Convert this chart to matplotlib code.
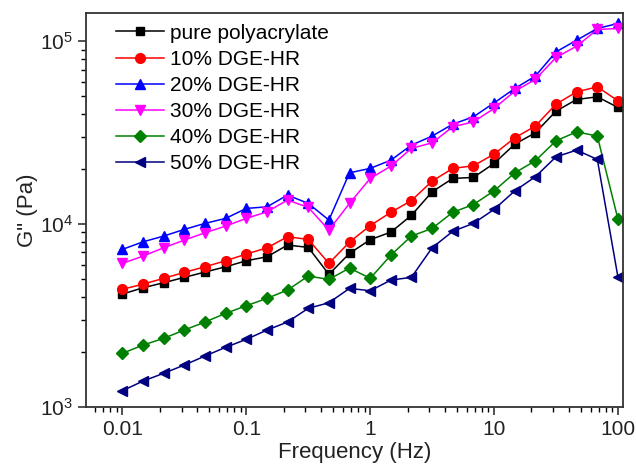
import numpy as np
import matplotlib.pyplot as plt
from matplotlib.ticker import LogLocator, NullFormatter, FixedLocator, FixedFormatter

plt.rcParams['font.family'] = ['Liberation Sans', 'DejaVu Sans']

# frequency sweep, 6 points per decade
freq = [0.01, 0.0147, 0.0215, 0.0316, 0.0464, 0.0681,
        0.1, 0.147, 0.215, 0.316, 0.464, 0.681,
        1, 1.47, 2.15, 3.16, 4.64, 6.81,
        10, 14.7, 21.5, 31.6, 46.4, 68.1, 100]

g_pure = [4145, 4487, 4778, 5114, 5467, 5844, 6302, 6627, 7678, 7460, 5311, 6918,
          8217, 9043, 11160, 15010, 17770, 17990, 21470, 27370, 31540, 41450,
          48010, 49610, 43420]
g_10 = [4398, 4700, 5050, 5446, 5844, 6302, 6857, 7421, 8522, 8248, 6099, 7972,
        9813, 11600, 13440, 17180, 20160, 20830, 24130, 29630, 34320, 45250,
        52840, 56270, 47180]
g_20 = [7273, 8003, 8597, 9354, 10088, 10742, 12180, 12430, 14400, 12980, 10517,
        19070, 20160, 22370, 27020, 30270, 35190, 38580, 46000, 55140, 64380,
        87390, 101270, 117300, 124950]
g_30 = [6099, 6686, 7421, 8176, 8965, 9752, 10742, 11674, 13530, 12340, 9273,
        12980, 17770, 20750, 25930, 27820, 34020, 36220, 42880, 53310, 61760,
        81450, 93910, 115830, 117300]
g_40 = [1965, 2182, 2374, 2635, 2914, 3251, 3578, 3926, 4358, 5197, 4986, 5748,
        5050, 6770, 8597, 9474, 11600, 12790, 15200, 19070, 22180, 28530, 31940,
        30270, 10610]
g_50 = [1228, 1387, 1528, 1696, 1900, 2120, 2344, 2635, 2914, 3462, 3715, 4452,
        4320, 4943, 5114, 7421, 9135, 10088, 12030, 15200, 18130, 23320, 25370,
        22570, 5114]

series = [
    ("pure polyacrylate", g_pure, "black", "s"),
    ("10% DGE-HR", g_10, "#ff0000", "o"),
    ("20% DGE-HR", g_20, "#0000ff", "^"),
    ("30% DGE-HR", g_30, "#ff00ff", "v"),
    ("40% DGE-HR", g_40, "#008000", "D"),
    ("50% DGE-HR", g_50, "#000080", "<"),
]

fig = plt.figure(figsize=(6.36, 4.72), dpi=100)
ax = fig.add_axes([0.1352, 0.1377, 0.8444, 0.8341])

for label, vals, col, mk in series:
    ms = 6 if mk in ("s", "D") else 7
    ax.plot(freq, vals, color=col, marker=mk, markersize=ms, lw=1.1,
            markeredgecolor=col, label=label)

ax.set_xscale('log')
ax.set_yscale('log')
ax.set_xlim(0.00508, 109.8)
ax.set_ylim(1000, 142000)

ax.xaxis.set_major_locator(FixedLocator([0.01, 0.1, 1, 10, 100]))
ax.xaxis.set_major_formatter(FixedFormatter(['0.01', '0.1', '1', '10', '100']))
ax.xaxis.set_minor_locator(LogLocator(base=10, subs=np.arange(2, 10), numticks=20))
ax.xaxis.set_minor_formatter(NullFormatter())
ax.yaxis.set_minor_locator(LogLocator(base=10, subs=np.arange(2, 10), numticks=20))
ax.yaxis.set_minor_formatter(NullFormatter())

ax.tick_params(which='major', direction='out', length=6, width=1.1, labelsize=15,
               colors='#222222')
ax.tick_params(which='minor', direction='out', length=3.5, width=1.0)
for s in ax.spines.values():
    s.set_linewidth(1.3)
    s.set_color('#333333')

ax.set_xlabel("Frequency (Hz)", fontsize=16, color='#222222', labelpad=2)
ax.set_ylabel('G" (Pa)', fontsize=16, color='#222222', labelpad=1)

ax.legend(loc='upper left', frameon=False, fontsize=15, handlelength=2.3,
          handletextpad=0.3, labelspacing=0.34, borderaxespad=0.1,
          bbox_to_anchor=(0.036, 1.0))

fig.savefig("out.png", dpi=100)
